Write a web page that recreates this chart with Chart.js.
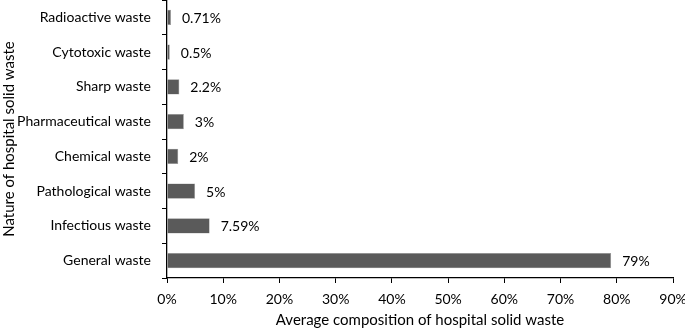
<!DOCTYPE html>
<html>
<head>
<meta charset="utf-8">
<script src="https://cdn.jsdelivr.net/npm/chart.js@4"></script>
<style>
  html, body { margin: 0; padding: 0; background: #fff; }
  #wrap { width: 685px; height: 329px; }
</style>
</head>
<body>
<div id="wrap"><canvas id="wasteChart" width="685" height="329"></canvas></div>
<script>
const categories = [
    "Radioactive waste",
    "Cytotoxic waste",
    "Sharp waste",
    "Pharmaceutical waste",
    "Chemical waste",
    "Pathological waste",
    "Infectious waste",
    "General waste"
];
const composition = [0.71, 0.5, 2.2, 3, 2, 5, 7.59, 79];
const valueLabels = ["0.71%", "0.5%", "2.2%", "3%", "2%", "5%", "7.59%", "79%"];
const xTicks = [0, 10, 20, 30, 40, 50, 60, 70, 80, 90];

const fontFamily = "Lato, 'Open Sans', sans-serif";

// draw the value labels next to each bar end
const valueLabelPlugin = {
    id: 'valueLabels',
    afterDatasetsDraw(chart) {
        const ctx = chart.ctx;
        const meta = chart.getDatasetMeta(0);
        ctx.save();
        ctx.font = "14px " + fontFamily;
        ctx.fillStyle = "#000";
        ctx.textAlign = "left";
        ctx.textBaseline = "middle";
        meta.data.forEach((bar, i) => {
            ctx.fillText(valueLabels[i], bar.x + 11, bar.y + 1);
        });
        ctx.restore();
    }
};

new Chart(document.getElementById('wasteChart').getContext('2d'), {
    type: 'bar',
    data: {
        labels: categories,
        datasets: [{
            data: composition,
            backgroundColor: '#5a5a5a',
            borderColor: '#9a9a9a',
            borderWidth: 0.6,
            categoryPercentage: 1,
            barPercentage: 0.44
        }]
    },
    options: {
        indexAxis: 'y',
        responsive: false,
        animation: false,
        layout: { padding: { top: 0, right: 0, left: 0, bottom: 0 } },
        plugins: {
            legend: { display: false },
            tooltip: { enabled: false }
        },
        scales: {
            x: {
                min: 0,
                max: 90,
                afterBuildTicks(scale) {
                    scale.ticks = xTicks.map(v => ({ value: v }));
                },
                afterFit(scale) {
                    scale.height = 51;
                    scale.paddingLeft = 0;
                    scale.paddingRight = 12;
                },
                grid: {
                    display: true,
                    drawOnChartArea: false,
                    drawTicks: true,
                    tickLength: 5,
                    color: '#000'
                },
                border: { display: true, color: '#000', width: 1.3 },
                ticks: {
                    color: '#000',
                    padding: 8,
                    maxRotation: 0,
                    font: { family: fontFamily, size: 14 },
                    callback: v => v + '%'
                },
                title: {
                    display: true,
                    text: 'Average composition of hospital solid waste',
                    color: '#000',
                    font: { family: fontFamily, size: 15 },
                    padding: { top: 0, bottom: 0 }
                }
            },
            y: {
                offset: true,
                afterFit(scale) {
                    scale.width = 167;
                    scale.paddingTop = 0;
                    scale.paddingBottom = 0;
                },
                grid: {
                    display: true,
                    offset: true,
                    drawOnChartArea: false,
                    drawTicks: true,
                    tickLength: 5,
                    color: '#000'
                },
                border: { display: true, color: '#000', width: 1.3 },
                ticks: {
                    color: '#000',
                    padding: 11,
                    font: { family: fontFamily, size: 14 }
                },
                title: {
                    display: true,
                    text: 'Nature of hospital solid waste',
                    color: '#000',
                    font: { family: fontFamily, size: 15 },
                    padding: { top: 0, bottom: 0 }
                }
            }
        }
    },
    plugins: [valueLabelPlugin]
});
</script>
</body>
</html>
